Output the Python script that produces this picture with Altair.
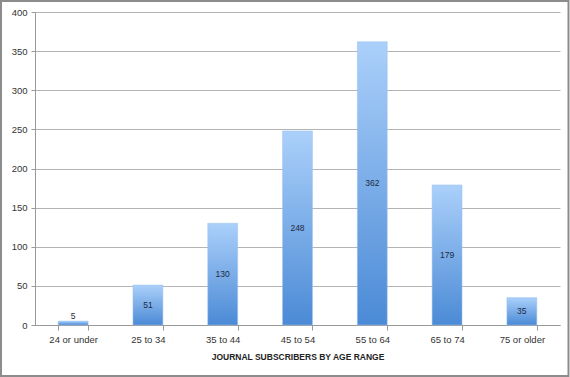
import altair as alt
import pandas as pd

categories = ["24 or under", "25 to 34", "35 to 44", "45 to 54", "55 to 64", "65 to 74", "75 or older"]
values = [5, 51, 130, 248, 362, 179, 35]
y_ticks = [0, 50, 100, 150, 200, 250, 300, 350, 400]

df = pd.DataFrame({"age": categories, "count": values})

W, H = 525, 313

x_scale = alt.Scale(paddingInner=0.6, paddingOuter=0.31)
y_scale = alt.Scale(domain=[0, 400], nice=False)

x_axis = alt.Axis(labelAngle=0, labelFont="Liberation Sans", labelFontSize=9.5,
                  labelColor="#333333", labelPadding=4, tickBand="extent",
                  tickSize=5, tickColor="#999999", domainColor="#999999",
                  titleFont="Liberation Sans", titleFontSize=8.5, titleFontWeight="bold",
                  titleColor="#222222", titlePadding=9)
y_axis = alt.Axis(values=y_ticks, labelOverlap=False,
                  labelFont="Liberation Sans", labelFontSize=9.5, labelColor="#333333",
                  gridColor="#b4b4b4", gridWidth=1, tickSize=4, tickColor="#999999",
                  domainColor="#999999", labelPadding=4)

x_title = "JOURNAL SUBSCRIBERS BY AGE RANGE"

base = alt.Chart(df)

bars = base.mark_bar(
    color=alt.Gradient(
        gradient="linear", x1=0, x2=0, y1=0, y2=1,
        stops=[alt.GradientStop(color="#abd0fa", offset=0),
               alt.GradientStop(color="#4b8ad6", offset=1)]
    ),
    stroke="#9cc3f0", strokeWidth=0.5
).encode(
    x=alt.X("age:N", sort=categories, title=x_title, scale=x_scale, axis=x_axis),
    y=alt.Y("count:Q", title=None, scale=y_scale, axis=y_axis)
)

labels = base.transform_calculate(
    ypos="datum.count < 20 ? datum.count + 7 : datum.count / 2"
).mark_text(font="Liberation Sans", fontSize=8.5, color="#1c2a40").encode(
    x=alt.X("age:N", sort=categories, title=x_title, scale=x_scale, axis=x_axis),
    y=alt.Y("ypos:Q", title=None, scale=y_scale, axis=y_axis),
    text=alt.Text("count:Q")
)

border = alt.Chart(pd.DataFrame({"a": [0]})).mark_rect(
    fill=None, stroke="#8c8c8c", strokeWidth=2
).encode(
    x=alt.value(-34), x2=alt.value(W + 8.5), y=alt.value(-11), y2=alt.value(H + 51)
)

chart = alt.layer(bars, labels, border).properties(
    width=W, height=H,
    autosize=alt.AutoSizeParams(type="none"),
    padding={"left": 35, "top": 12, "right": 10, "bottom": 52},
    background="white"
).configure_view(stroke=None)

chart.save("out.html", embed_options={"renderer": "svg", "actions": False})
